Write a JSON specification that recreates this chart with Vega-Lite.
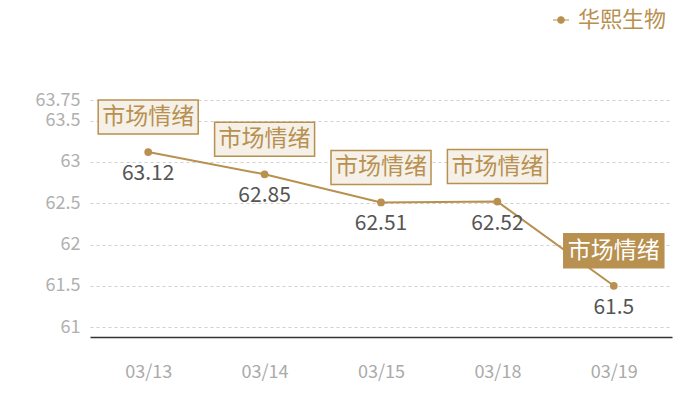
{
  "$schema": "https://vega.github.io/schema/vega-lite/v6.json",
  "width": 582,
  "height": 237,
  "autosize": {"type": "none"},
  "padding": {"left": 90, "top": 100, "right": 28, "bottom": 63},
  "background": "white",
  "config": {
    "font": "Noto Sans CJK SC",
    "view": {"stroke": null}
  },
  "data": {
    "values": [
      {"date": "03/13", "value": 63.12, "name": "华熙生物", "tag": "市场情绪"},
      {"date": "03/14", "value": 62.85, "name": "华熙生物", "tag": "市场情绪"},
      {"date": "03/15", "value": 62.51, "name": "华熙生物", "tag": "市场情绪"},
      {"date": "03/18", "value": 62.52, "name": "华熙生物", "tag": "市场情绪"},
      {"date": "03/19", "value": 61.5, "name": "华熙生物", "tag": "市场情绪"}
    ]
  },
  "encoding": {
    "x": {
      "field": "date",
      "type": "ordinal",
      "title": null,
      "axis": {
        "labelAngle": 0,
        "labelColor": "#aaaaaa",
        "labelFontSize": 18,
        "labelPadding": 26,
        "ticks": false,
        "domainColor": "#333333",
        "domainWidth": 1.5,
        "grid": false
      }
    },
    "y": {
      "field": "value",
      "type": "quantitative",
      "title": null,
      "scale": {"domain": [60.88, 63.75], "nice": false, "zero": false},
      "axis": {
        "values": [61, 61.5, 62, 62.5, 63, 63.5, 63.75],
        "format": ".2~f",
        "labelOverlap": false,
        "labelColor": "#b0b0b0",
        "labelFontSize": 18,
        "labelPadding": 10,
        "ticks": false,
        "domain": false,
        "gridColor": "#d0d0d0",
        "gridDash": [3, 3],
        "gridWidth": 1
      }
    }
  },
  "layer": [
    {
      "mark": {"type": "line", "strokeWidth": 2, "point": {"filled": true, "size": 60}},
      "encoding": {
        "color": {
          "field": "name",
          "type": "nominal",
          "scale": {"range": ["#b8904f"]},
          "legend": {
            "title": null,
            "orient": "none",
            "legendX": 460,
            "legendY": -91,
            "labelFontSize": 22,
            "labelColor": "#b8904f",
            "symbolType": "M-1,0H-0.4M0.4,0H1M-0.4,0A0.4,0.4 0 1,0 0.4,0A0.4,0.4 0 1,0 -0.4,0Z",
            "symbolSize": 256,
            "symbolStrokeWidth": 1.2,
            "symbolFillColor": "#b8904f",
            "symbolStrokeColor": "#b8904f",
            "labelOffset": 6
          }
        }
      }
    },
    {
      "mark": {"type": "text", "dy": 22, "fontSize": 21, "color": "#555555"},
      "encoding": {"text": {"field": "value", "type": "quantitative"}}
    },
    {
      "mark": {
        "type": "point",
        "shape": "M-1,-0.34H1V0.34H-1Z",
        "size": 10000,
        "filled": true,
        "yOffset": -35,
        "stroke": "#b8904f",
        "strokeWidth": 1.5,
        "opacity": 1
      },
      "encoding": {
        "fill": {
          "condition": {"test": "datum.date === '03/19'", "value": "#b8904f"},
          "value": "#f5f0e8"
        }
      }
    },
    {
      "mark": {"type": "text", "yOffset": -35, "fontSize": 23},
      "encoding": {
        "text": {"field": "tag"},
        "color": {
          "condition": {"test": "datum.date === '03/19'", "value": "#ffffff"},
          "value": "#b8904f"
        }
      }
    }
  ]
}
